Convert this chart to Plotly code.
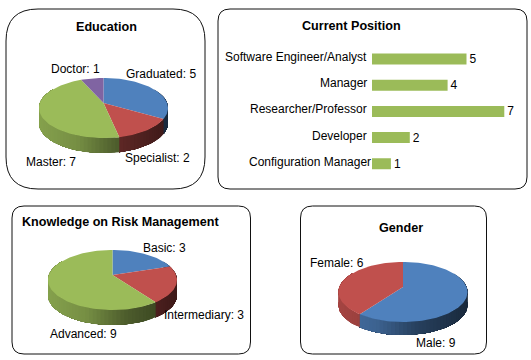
import numpy as np
import plotly.graph_objects as go

# ---- data ----
edu_labels = ["Graduated", "Specialist", "Master", "Doctor"]
edu_values = [5, 2, 7, 1]
risk_labels = ["Basic", "Intermediary", "Advanced"]
risk_values = [3, 3, 9]
gender_labels = ["Male", "Female"]
gender_values = [9, 6]
position_labels = ["Software Engineer/Analyst", "Manager", "Researcher/Professor",
                   "Developer", "Configuration Manager"]
position_values = [5, 4, 7, 2, 1]

# ---- styles ----
BLUE, RED, GREEN, PURPLE = (79, 129, 189), (192, 80, 77), (155, 187, 89), (128, 100, 162)
FONT = "Liberation Sans"
K = 1 / 6          # perspective strength of the tilted pies
SHADE_X = [0, .3, .6, 1]
SHADE_F = [.86, .76, .5, .32]

fig = go.Figure()


def project(theta, c):
    cx, cy, rx, ry = c
    u, v = np.sin(theta), -np.cos(theta)
    s = 1 / (1 - K * v)
    return cx + rx * u * s, cy + ry * v * s


def rgb(c, f=1.0):
    return "rgb(%d,%d,%d)" % tuple(int(round(x * f)) for x in c)


def poly(xs, ys, color):
    fig.add_trace(go.Scatter(x=xs, y=ys, mode="lines", fill="toself", fillcolor=color,
                             line=dict(color=color, width=0), hoverinfo="skip",
                             showlegend=False, xaxis="x", yaxis="y"))


def pie3d(values, colors, c, depth):
    cx, cy, rx, ry = c
    edges = np.concatenate([[0], np.cumsum(values)]) / sum(values) * 2 * np.pi
    x0, x1 = cx - rx * 1.014, cx + rx * 1.014
    # side wall: each strip runs on to the slice's far end, so later strips overpaint it
    for a, b, col in zip(edges[:-1], edges[1:], colors):
        lo, hi = max(a, np.radians(60)), min(b, np.radians(300))
        if hi <= lo:
            continue
        n = max(2, int(np.degrees(hi - lo) / 3))
        t = np.linspace(lo, hi, n + 1)
        for i in range(n):
            seg = np.linspace(t[i], hi, max(2, n - i + 1))
            xs, ys = project(seg, c)
            xa, _ = project(t[i], c)
            xb, _ = project(t[i + 1], c)
            f = np.interp(((xa + xb) / 2 - x0) / (x1 - x0), SHADE_X, SHADE_F)
            poly(np.r_[xs, xs[::-1], xs[0]], np.r_[ys, ys[::-1] + depth, ys[0]], rgb(col, f))
    # top face
    for a, b, col in zip(edges[:-1], edges[1:], colors):
        t = np.linspace(a, b, max(3, int(np.degrees(b - a) / 2)))
        xs, ys = project(t, c)
        poly(np.r_[cx, xs, cx], np.r_[cy, ys, cy], rgb(col))


def panel(x0, y0, x1, y1, r):
    path = (f"M{x0+r},{y0} L{x1-r},{y0} Q{x1},{y0} {x1},{y0+r} L{x1},{y1-r} Q{x1},{y1} {x1-r},{y1} "
            f"L{x0+r},{y1} Q{x0},{y1} {x0},{y1-r} L{x0},{y0+r} Q{x0},{y0} {x0+r},{y0} Z")
    return dict(type="path", path=path, xref="x", yref="y", layer="below",
                line=dict(color="#111111", width=1), fillcolor="white")


pie3d(edu_values, [BLUE, RED, GREEN, PURPLE], (103.5, 103, 63.6, 29.2), 15)
pie3d(risk_values, [BLUE, RED, GREEN], (112.5, 275, 63.6, 29.2), 15)
pie3d(gender_values, [BLUE, RED], (403, 287, 63.6, 29.2), 13)

# bar panel
fig.add_trace(go.Bar(y=position_labels, x=position_values, orientation="h",
                     marker=dict(color=rgb(GREEN), line=dict(width=0)),
                     text=[str(v) for v in position_values], textposition="outside",
                     constraintext="none",
                     textfont=dict(family=FONT, size=12, color="#000000"),
                     cliponaxis=False, width=0.42, hoverinfo="skip",
                     showlegend=False, xaxis="x2", yaxis="y2"))


def note(x, y, text, bold=False, size=12, **kw):
    d = dict(x=x, y=y, xref="x", yref="y", text=f"<b>{text}</b>" if bold else text,
             showarrow=False, xanchor="center", yanchor="middle",
             font=dict(family=FONT, size=size, color="#000000"))
    d.update(kw)
    return d


notes = [
    note(106, 27, "Education", True, 12.6),
    note(351.7, 25.7, "Current Position", True, 12.6),
    note(120.7, 221.7, "Knowledge on Risk Management", True, 12.6),
    note(400.7, 228, "Gender", True, 12.6),
]
edu_pos = [(161, 73.7), (157, 158), (51, 162), (75, 69)]
risk_pos = [(164, 247.7), (204, 314.7), (83, 334)]
gender_pos = [(435.7, 342.7), (336.7, 263)]
for labs, vals, pos in [(edu_labels, edu_values, edu_pos), (risk_labels, risk_values, risk_pos),
                        (gender_labels, gender_values, gender_pos)]:
    for l, v, (x, y) in zip(labs, vals, pos):
        notes.append(note(x, y, f"{l}: {v}"))

for i, l in enumerate(position_labels):
    shift = 4 if i == len(position_labels) - 1 else 0
    notes.append(dict(x=0, y=l, xref="x2", yref="y2", text=l, showarrow=False, xanchor="right",
                      yanchor="middle", xshift=-3 + shift, yshift=2,
                      font=dict(family=FONT, size=12, color="#000000")))

W, H = 531, 360
fig.update_layout(
    width=W, height=H, margin=dict(l=0, r=0, t=0, b=0),
    paper_bgcolor="white", plot_bgcolor="rgba(0,0,0,0)", showlegend=False,
    xaxis=dict(domain=[0, 1], range=[0, W], visible=False, fixedrange=True),
    yaxis=dict(domain=[0, 1], range=[H, 0], visible=False, fixedrange=True),
    xaxis2=dict(domain=[372 / W, (372 + 18.9 * 8) / W], range=[0, 8], visible=False,
                anchor="y2", fixedrange=True),
    yaxis2=dict(domain=[(H - 176.9) / H, (H - 45.9) / H], autorange="reversed", type="category",
                categoryorder="array", categoryarray=position_labels, visible=False,
                anchor="x2", fixedrange=True),
    shapes=[panel(6, 9, 205, 189, 32), panel(218, 9, 527, 189, 12),
            panel(12, 206, 250.5, 354, 12), panel(300.5, 206, 486.5, 354, 12)],
    annotations=notes,
)
fig.write_html("out.html", config={"displayModeBar": False},
               post_script="document.body.style.margin='0';document.body.style.overflow='hidden';")
